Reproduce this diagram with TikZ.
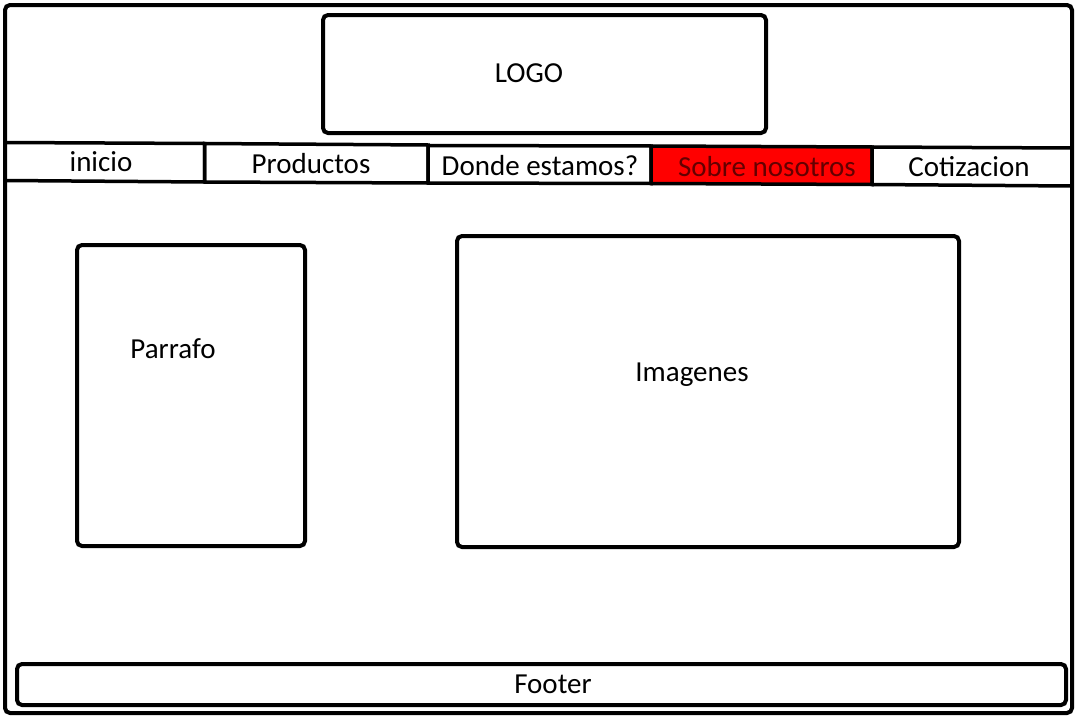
\documentclass[tikz,border=0pt]{standalone}
\usepackage{fontspec}
\setmainfont{Carlito}
\definecolor{navred}{RGB}{255,0,0}
\definecolor{navtext}{RGB}{100,0,0}
\begin{document}
\begin{tikzpicture}[x=1pt,y=-1pt,
  frame/.style={draw=black,line width=4pt,rounded corners=5pt},
  navcell/.style={draw=black,line width=3.5pt,line join=miter},
  label/.style={font=\fontsize{29}{35}\selectfont,anchor=base,inner sep=0pt}]
  \useasboundingbox (0,0) rectangle (1080,720);
  \fill[white] (0,0) rectangle (1080,720);

  % page frame
  \node[frame,minimum width=1067pt,minimum height=708pt,inner sep=0pt] (page) at (538.5,359) {};

  % header logo
  \node[frame,minimum width=443pt,minimum height=118pt,inner sep=0pt] (logo) at (544.5,74) {};
  \node[label] (logotxt) at (529,82) {LOGO};

  % navigation bar: five slightly skewed cells
  \draw[navcell] (5,142.5) -- (204.5,143.5) -- (204.5,182) -- (5,180.5) -- cycle;
  \draw[navcell] (204.5,143.5) -- (428,145) -- (428,183) -- (204.5,182) -- cycle;
  \draw[navcell] (428,145.5) -- (651,146) -- (651,183.5) -- (428,183) -- cycle;
  \draw[navcell,fill=navred] (651,146) -- (872,147) -- (872,184.5) -- (651,183.5) -- cycle;
  \draw[navcell] (872,147) -- (1072,148) -- (1072,186) -- (872,184.5) -- cycle;
  \node[label] (inicio) at (101,171) {inicio};
  \node[label] (productos) at (311,173) {Productos};
  \node[label] (donde) at (540,175) {Donde estamos?};
  \node[label,text=navtext] (sobre) at (767,176) {Sobre nosotros};
  \node[label] (cotizacion) at (969,176) {Cotizacion};

  % content blocks
  \node[frame,minimum width=228pt,minimum height=301pt,inner sep=0pt] (parrafo) at (191,395.5) {};
  \node[label] (parrafotxt) at (173,358) {Parrafo};
  \node[frame,minimum width=502pt,minimum height=311pt,inner sep=0pt] (imagenes) at (708,391.5) {};
  \node[label] (imagenestxt) at (692,381) {Imagenes};

  % footer
  \node[frame,minimum width=1049pt,minimum height=41pt,inner sep=0pt] (footer) at (541.5,684.5) {};
  \node[label] (footertxt) at (553,693) {Footer};
\end{tikzpicture}
\end{document}
